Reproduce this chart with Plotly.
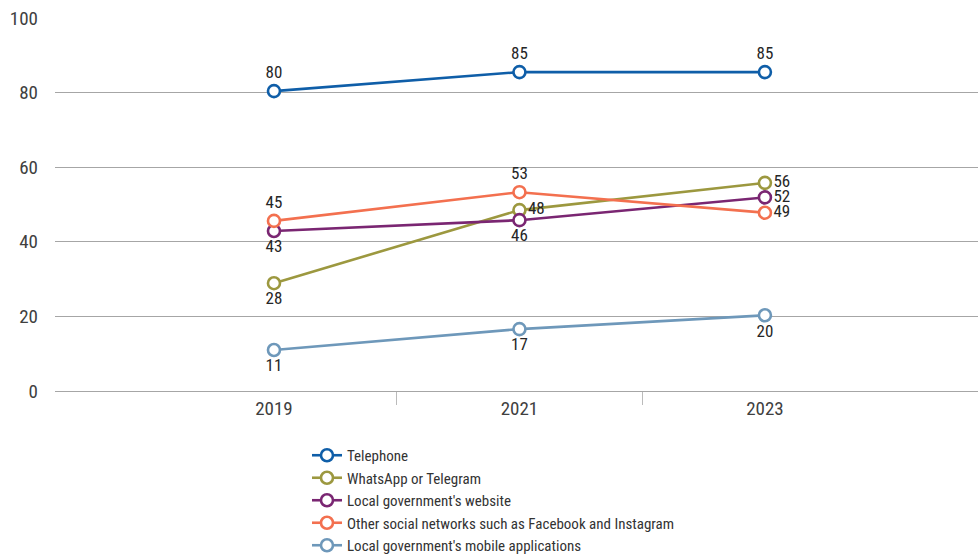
import plotly.graph_objects as go

years = [2019, 2021, 2023]
series_names = [
    "Telephone",
    "WhatsApp or Telegram",
    "Local government's website",
    "Other social networks such as Facebook and Instagram",
    "Local government's mobile applications",
]
telephone = [80.4, 85.5, 85.5]
whatsapp = [28.9, 48.5, 55.8]
website = [42.9, 45.8, 51.9]
other_social = [45.6, 53.3, 47.8]
mobile_apps = [11.0, 16.6, 20.3]

telephone_labels = ["80", "85", "85"]
whatsapp_labels = ["28", "48", "56"]
website_labels = ["43", "46", "52"]
other_social_labels = ["45", "53", "49"]
mobile_apps_labels = ["11", "17", "20"]

y_ticks = [0, 20, 40, 60, 80, 100]

colors = ["#0F5EA8", "#9C983F", "#7A2672", "#F3704F", "#6E98BA"]
positions = [
    ["top center", "top center", "top center"],
    ["bottom center", "middle right", "middle right"],
    ["bottom center", "bottom center", "middle right"],
    ["top center", "top center", "middle right"],
    ["bottom center", "bottom center", "bottom center"],
]

FONT = "Roboto Condensed, Liberation Sans Narrow, Roboto, sans-serif"

fig = go.Figure()
values = [telephone, whatsapp, website, other_social, mobile_apps]
labels = [telephone_labels, whatsapp_labels, website_labels, other_social_labels, mobile_apps_labels]
for name, vals, labs, col, pos in zip(series_names, values, labels, colors, positions):
    fig.add_trace(go.Scatter(
        x=years, y=vals, name=name,
        mode="lines+markers+text",
        text=labs, textposition=pos,
        textfont=dict(family=FONT, size=17, color="#262626"),
        line=dict(color=col, width=2.6),
        marker=dict(symbol="circle", size=12, color="white",
                    line=dict(color=col, width=2.6)),
        cliponaxis=False,
    ))

fig.update_layout(
    width=978, height=554,
    margin=dict(l=55, r=0, t=18, b=163),
    plot_bgcolor="white", paper_bgcolor="white",
    font=dict(family=FONT, size=16, color="#404040"),
    showlegend=True,
    legend=dict(
        x=0.273, y=0.2076, xanchor="left", yanchor="top",
        yref="container",
        orientation="v",
        font=dict(family=FONT, size=15, color="#333333"),
        tracegroupgap=0, itemwidth=30,
        bgcolor="rgba(0,0,0,0)",
    ),
)
fig.update_xaxes(
    range=[2017.216, 2024.736],
    tickvals=years, ticktext=[str(y) for y in years],
    ticks="", showgrid=False, zeroline=False,
    showline=False, automargin=False,
    ticklabelstandoff=4,
    tickfont=dict(family=FONT, size=19, color="#404040"),
    minor=dict(tickvals=[2020, 2022], ticks="outside", ticklen=13,
               tickcolor="#BBBBBB", tickwidth=1, showgrid=False),
)
fig.update_yaxes(
    range=[0, 100], tickvals=y_ticks,
    showgrid=True, gridcolor="#A6A6A6", gridwidth=1,
    zeroline=True, zerolinecolor="#A6A6A6", zerolinewidth=1,
    showline=False, ticks="", automargin=False,
    ticklabelstandoff=16,
    tickfont=dict(family=FONT, size=19, color="#404040"),
)

fig.write_html(
    "out.html",
    config={"displayModeBar": False},
    post_script="document.body.style.margin='0px';document.body.style.overflow='hidden';",
)
